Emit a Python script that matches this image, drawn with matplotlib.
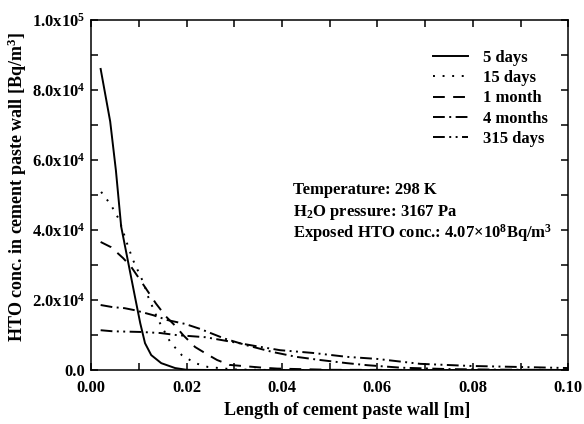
import numpy as np
import matplotlib.pyplot as plt
from matplotlib.ticker import MultipleLocator, FuncFormatter

plt.rcParams["font.family"] = ["Liberation Serif", "DejaVu Serif"]
plt.rcParams["font.weight"] = "bold"
plt.rcParams["mathtext.fontset"] = "custom"
plt.rcParams["mathtext.rm"] = "Liberation Serif:bold"
plt.rcParams["mathtext.it"] = "Liberation Serif:italic:bold"
plt.rcParams["mathtext.bf"] = "Liberation Serif:bold"
plt.rcParams["lines.scale_dashes"] = False

# depth into wall [m] and HTO concentration [Bq/m3]
x_5d = [0.002, 0.004, 0.0052, 0.0063, 0.0078, 0.0092, 0.0103, 0.0113, 0.0126,
        0.0147, 0.0176, 0.02, 0.03, 0.1]
c_5d = [86000, 71000, 57000, 41000, 30600, 20900, 13400, 7700, 4300,
        2000, 600, 100, 0, 0]

x_15d = [0.0021, 0.0042, 0.0059, 0.0078, 0.0088, 0.011, 0.012, 0.014, 0.0166,
         0.019, 0.0218, 0.0245, 0.03, 0.04, 0.1]
c_15d = [50900, 47100, 42900, 35100, 31400, 24900, 20800, 14500, 8000,
         4300, 2000, 900, 200, 0, 0]

x_1m = [0.002, 0.0042, 0.0067, 0.0084, 0.011, 0.0136, 0.0157, 0.0176, 0.0193,
        0.0218, 0.0241, 0.0264, 0.029, 0.036, 0.039, 0.05, 0.1]
c_1m = [36600, 35100, 32000, 29500, 24300, 19000, 15300, 12700, 10000,
        6600, 4700, 2900, 1500, 700, 450, 100, 0]

x_4m = [0.002, 0.0045, 0.007, 0.0092, 0.013, 0.016, 0.0197, 0.0228, 0.028,
        0.0326, 0.038, 0.043, 0.048, 0.0536, 0.058, 0.065, 0.075, 0.085, 0.1]
c_4m = [18600, 18000, 17700, 17100, 15700, 14300, 13200, 11800, 9000,
        7100, 5200, 3800, 2900, 2000, 1400, 700, 300, 150, 50]

x_315d = [0.002, 0.0045, 0.0105, 0.0145, 0.018, 0.024, 0.0298, 0.0348, 0.0396,
          0.0466, 0.0536, 0.06, 0.069, 0.0795, 0.09, 0.1]
c_315d = [11400, 11100, 10900, 10600, 10000, 9400, 8000, 6800, 5700,
          4900, 3800, 3200, 1800, 1200, 900, 600]

labels = ["5 days", "15 days", "1 month", "4 months", "315 days"]


def sci_label(v, pos):
    if v <= 0:
        return "0.0"
    e = int(np.floor(np.log10(v) + 1e-9))
    return "%.1fx10$^{%d}$" % (v / 10 ** e, e)


fig = plt.figure(figsize=(5.84, 4.24), dpi=100)
ax = fig.add_axes([0.156, 0.127, 0.817, 0.826])

lw = 1.4
ax.plot(x_5d, c_5d, color="black", lw=lw, label=labels[0])
ax.plot(x_15d, c_15d, color="black", lw=lw, dashes=(1.4, 5.5), label=labels[1])
ax.plot(x_1m, c_1m, color="black", lw=lw, dashes=(8.5, 6), label=labels[2])
ax.plot(x_4m, c_4m, color="black", lw=lw, dashes=(8.5, 3.2, 1.4, 3.2), label=labels[3])
ax.plot(x_315d, c_315d, color="black", lw=lw,
        dashes=(8.5, 3.2, 1.4, 3.2, 1.4, 3.2), label=labels[4])

ax.set_xlim(0, 0.1)
ax.set_ylim(0, 1e5)
ax.xaxis.set_major_locator(MultipleLocator(0.02))
ax.xaxis.set_minor_locator(MultipleLocator(0.01))
ax.yaxis.set_major_locator(MultipleLocator(2e4))
ax.yaxis.set_minor_locator(MultipleLocator(1e4))
ax.xaxis.set_major_formatter(FuncFormatter(lambda v, p: "%.2f" % abs(v)))
ax.yaxis.set_major_formatter(FuncFormatter(sci_label))
ax.tick_params(which="both", direction="in", top=True, right=True,
               length=5, width=1.1, labelsize=12, pad=4)
ax.tick_params(axis="x", which="major", pad=7)
for s in ax.spines.values():
    s.set_linewidth(1.1)

ax.set_xlabel("Length of cement paste wall [m]", fontsize=13, fontweight="bold")
ax.set_ylabel("HTO conc. in cement paste wall [Bq/m$^3$]", fontsize=13,
              fontweight="bold")
ax.xaxis.set_label_coords(0.537, -0.091)
ax.yaxis.set_label_coords(-0.13, 0.523)

ax.legend(loc="upper left", bbox_to_anchor=(0.717, 0.915), frameon=False,
          fontsize=12, handlelength=2.1, handletextpad=0.9,
          labelspacing=0.26, borderpad=0, borderaxespad=0)

ax.text(0.423, 0.514, "Temperature: 298 K", transform=ax.transAxes,
        fontsize=12, va="center")
ax.text(0.423, 0.451, "H$_2$O pressure: 3167 Pa", transform=ax.transAxes,
        fontsize=12, va="center")
ax.text(0.423, 0.391, "Exposed HTO conc.: 4.07\u00d710$^8$Bq/m$^3$",
        transform=ax.transAxes, fontsize=12, va="center")

fig.savefig("out.png", dpi=100)
